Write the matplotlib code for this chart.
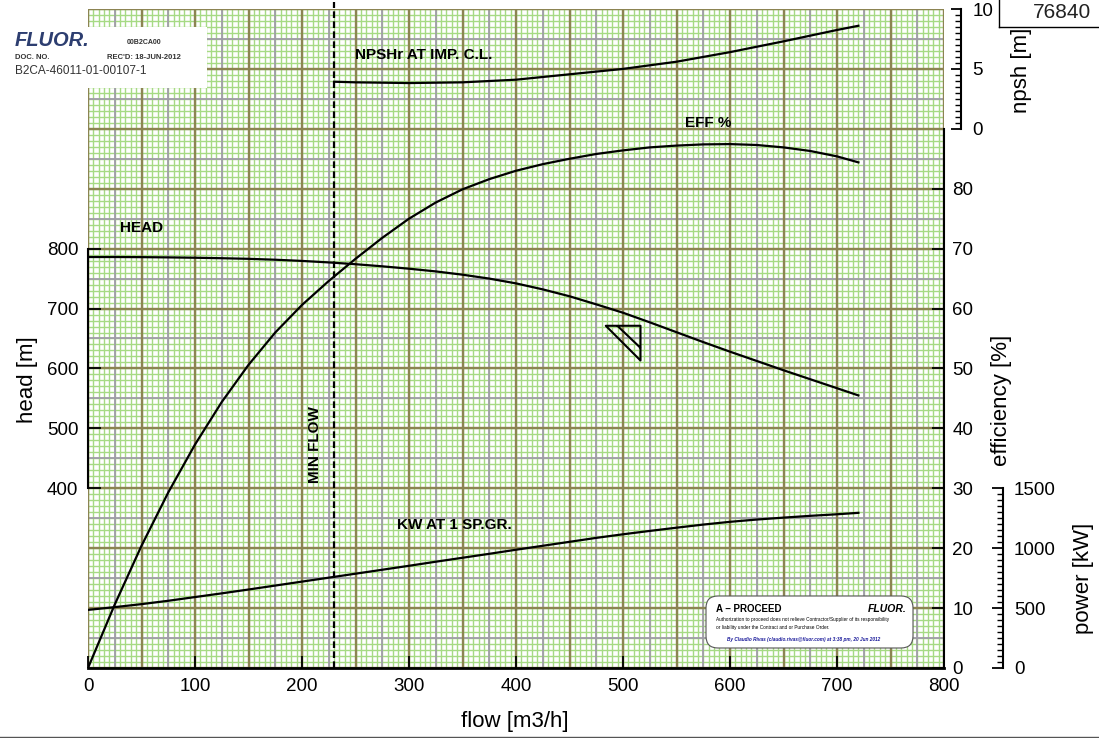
import numpy as np
import matplotlib.pyplot as plt
from matplotlib.path import Path
from matplotlib.patches import FancyBboxPatch, Rectangle
from matplotlib.lines import Line2D

plt.rcParams['font.family'] = ['Liberation Sans', 'DejaVu Sans']

# pump curve readings, flow in m3/h
flow = [0, 25, 50, 75, 100, 125, 150, 175, 200, 225, 250, 275, 300, 325, 350, 375, 400,
        425, 450, 475, 500, 525, 550, 575, 600, 625, 650, 675, 700, 720]
head = [786, 786, 785.8, 785.4, 784.8, 784, 783, 781.5, 779.5, 777, 774, 770.5, 766.5, 762, 756.5, 750, 742,
        732, 720.5, 707, 693, 677, 660.5, 644, 628, 612.5, 597, 582, 567, 555]
eff = [0, 10.6, 20.4, 29.3, 37.3, 44.4, 50.6, 56.0, 60.6, 64.6, 68.3, 71.8, 75.0, 77.7, 79.9, 81.6, 83.0,
       84.1, 85.0, 85.8, 86.4, 86.9, 87.2, 87.4, 87.45, 87.3, 86.9, 86.3, 85.4, 84.4]
power = [485, 508, 533, 561, 592, 623, 655, 688, 721, 754, 787, 820, 853, 887, 920, 953, 987,
         1020, 1053, 1086, 1116, 1144, 1171, 1197, 1220, 1239, 1255, 1270, 1283, 1295]

npsh_flow = [230, 250, 300, 350, 400, 450, 500, 550, 600, 650, 700, 720]
npsh = [3.93, 3.88, 3.82, 3.88, 4.1, 4.55, 5.0, 5.6, 6.4, 7.3, 8.25, 8.6]

min_flow = 230
rated_flow = 516
rated_head = 614

green = '#a6da84'
grey = '#a09ca8'
olive = '#8c8452'

fig = plt.figure(figsize=(10.99, 7.38), dpi=100)
ax = fig.add_axes([88/1099, 70/738, 856/1099, 659/738])
ax.set_xlim(0, 800)
ax.set_ylim(100, 1200)

# graph paper
ax.vlines(np.arange(0, 801, 5), 100, 1200, color=green, lw=1.0, zorder=0)
ax.hlines(np.arange(100, 1201, 10), 0, 800, color=green, lw=1.0, zorder=0)
ax.vlines(np.arange(25, 800, 50), 100, 1200, color=grey, lw=1.3, zorder=0.5)
ax.hlines(np.arange(150, 1200, 100), 0, 800, color=grey, lw=1.3, zorder=0.5)
ax.vlines(np.arange(0, 801, 50), 100, 1200, color=olive, lw=1.7, zorder=0.6)
ax.hlines(np.arange(100, 1201, 100), 0, 800, color=olive, lw=1.7, zorder=0.6)

ax.plot(flow, head, color='black', lw=1.6)
ax.axvline(min_flow, ymax=1.01, color='black', lw=1.6, dashes=(3, 1.5), clip_on=False)

tri = Path([(-1, 1), (0, 1), (0, 0), (-1, 1), (-0.667, 1), (0, 0.363)],
           [Path.MOVETO, Path.LINETO, Path.LINETO, Path.CLOSEPOLY, Path.MOVETO, Path.LINETO])
ax.plot([rated_flow], [rated_head], marker=tri, ms=50, mfc='none', mec='black', mew=1.5, ls='none')

ax.spines['top'].set_visible(False)
ax.spines['right'].set_visible(False)
ax.spines['left'].set_bounds(400, 800)
ax.spines['left'].set_linewidth(1.5)
ax.spines['bottom'].set_linewidth(2)
ax.set_xticks(range(0, 801, 100))
ax.set_yticks(range(400, 801, 100))
ax.tick_params(direction='in', length=9, width=1.3, labelsize=13.5, pad=7)

# efficiency
ax_eff = ax.twinx()
ax_eff.set_ylim(0, 110)
ax_eff.plot(flow, eff, color='black', lw=1.6)
for s in ['left', 'top', 'bottom']:
    ax_eff.spines[s].set_visible(False)
ax_eff.spines['right'].set_bounds(0, 90)
ax_eff.spines['right'].set_linewidth(1.5)
ax_eff.set_yticks(range(0, 81, 10))
ax_eff.tick_params(direction='in', length=9, width=1.3, labelsize=13.5, pad=6)

ax_eff.text(30, 73.5, 'HEAD', fontweight='bold', fontsize=11, va='center')
ax_eff.text(558, 90.9, 'EFF %', fontweight='bold', fontsize=11, va='center')
ax_eff.text(249.5, 102.3, 'NPSHr AT IMP. C.L.', fontweight='bold', fontsize=11, va='center')
ax_eff.text(288.5, 23.9, 'KW AT 1 SP.GR.', fontweight='bold', fontsize=11, va='center')
ax_eff.text(212, 37.3, 'MIN FLOW', fontweight='bold', fontsize=11, va='center', ha='center', rotation=90)

# npsh
ax_np = ax.twinx()
ax_np.set_ylim(-45, 10)
ax_np.plot(npsh_flow, npsh, color='black', lw=1.6)
for s in ['left', 'top', 'bottom']:
    ax_np.spines[s].set_visible(False)
ax_np.spines['right'].set_position(('axes', 1.0199))
ax_np.spines['right'].set_bounds(0, 10)
ax_np.spines['right'].set_linewidth(1.5)
ax_np.set_yticks([0, 5, 10])
ax_np.set_yticks(np.arange(0, 10.01, 0.5), minor=True)
ax_np.tick_params(which='major', direction='in', length=7, width=1.3, labelsize=13.5, pad=8)
ax_np.tick_params(which='minor', direction='in', length=4, width=1.0)

# power
ax_pw = ax.twinx()
ax_pw.set_ylim(0, 5500)
ax_pw.plot(flow, power, color='black', lw=1.6)
for s in ['left', 'top', 'bottom']:
    ax_pw.spines[s].set_visible(False)
ax_pw.spines['right'].set_position(('axes', 1.0689))
ax_pw.spines['right'].set_bounds(0, 1500)
ax_pw.spines['right'].set_linewidth(1.5)
ax_pw.set_yticks([0, 500, 1000, 1500])
ax_pw.set_yticks(np.arange(0, 1501, 50), minor=True)
ax_pw.tick_params(which='major', direction='in', length=8, width=1.3, labelsize=13.5, pad=8)
ax_pw.tick_params(which='minor', direction='in', length=4.5, width=1.0)

# axis titles
fig.text(27/1099, 1 - 380/738, 'head [m]', rotation=90, ha='center', va='center', fontsize=16)
fig.text(515/1099, 1 - 722/738, 'flow [m3/h]', ha='center', va='center', fontsize=16)
fig.text(1001/1099, 1 - 400/738, 'efficiency [%]', rotation=90, ha='center', va='center', fontsize=16)
fig.text(1022/1099, 1 - 70/738, 'npsh [m]', rotation=90, ha='center', va='center', fontsize=16)
fig.text(1083/1099, 1 - 578/738, 'power [kW]', rotation=90, ha='center', va='center', fontsize=16)

inch = fig.dpi_scale_trans

# logo block top left
fig.add_artist(Rectangle((0, 6.50), 2.07, 0.61, transform=inch, fc='white', ec='none'))
fig.text(0.15, 6.97, 'FLUOR.', transform=inch, fontsize=14.5, fontweight='bold', fontstyle='italic',
         color='#2d3e70', va='center')
fig.text(1.27, 6.95, '00B2CA00', transform=inch, fontsize=5, fontweight='bold', va='center', color='#333')
fig.text(0.15, 6.805, 'DOC. NO.', transform=inch, fontsize=5.5, fontweight='bold', va='center', color='#333')
fig.text(1.07, 6.805, "REC'D: 18-JUN-2012", transform=inch, fontsize=5.5, fontweight='bold', va='center', color='#333')
fig.text(0.15, 6.67, 'B2CA-46011-01-00107-1', transform=inch, fontsize=8.5, va='center', color='#333')

# number box top right
fig.text(10.62, 7.26, '76840', transform=inch, fontsize=15, ha='center', va='center', color='#222')
fig.add_artist(Line2D([9.99, 9.99], [7.38, 7.11], transform=inch, color='black', lw=1))
fig.add_artist(Line2D([9.99, 10.99], [7.11, 7.11], transform=inch, color='black', lw=1))
fig.add_artist(Line2D([0, 10.99], [0.01, 0.01], transform=inch, color='#555', lw=1))

# approval stamp
fig.add_artist(FancyBboxPatch((7.06, 0.90), 2.07, 0.52, boxstyle='round,pad=0,rounding_size=0.12',
                              transform=inch, fc='white', ec='#555', lw=0.8))
fig.text(7.16, 1.29, 'A \u2013 PROCEED', transform=inch, fontsize=7, fontweight='bold', va='center')
fig.text(9.07, 1.29, 'FLUOR.', transform=inch, fontsize=7.5, fontweight='bold', fontstyle='italic',
         ha='right', va='center')
fig.text(7.16, 1.18, 'Authorization to proceed does not relieve Contractor/Supplier of its responsibility',
         transform=inch, fontsize=3.4, va='center')
fig.text(7.16, 1.10, 'or liability under the Contract and or Purchase Order.',
         transform=inch, fontsize=3.4, va='center')
fig.text(7.27, 0.98, 'By Claudio Rivas (claudio.rivas@fluor.com) at 3:38 pm, 20 Jun 2012',
         transform=inch, fontsize=3.4, fontweight='bold', fontstyle='italic', color='#1a1a9a', va='center')

fig.savefig('out.png', dpi=100)
